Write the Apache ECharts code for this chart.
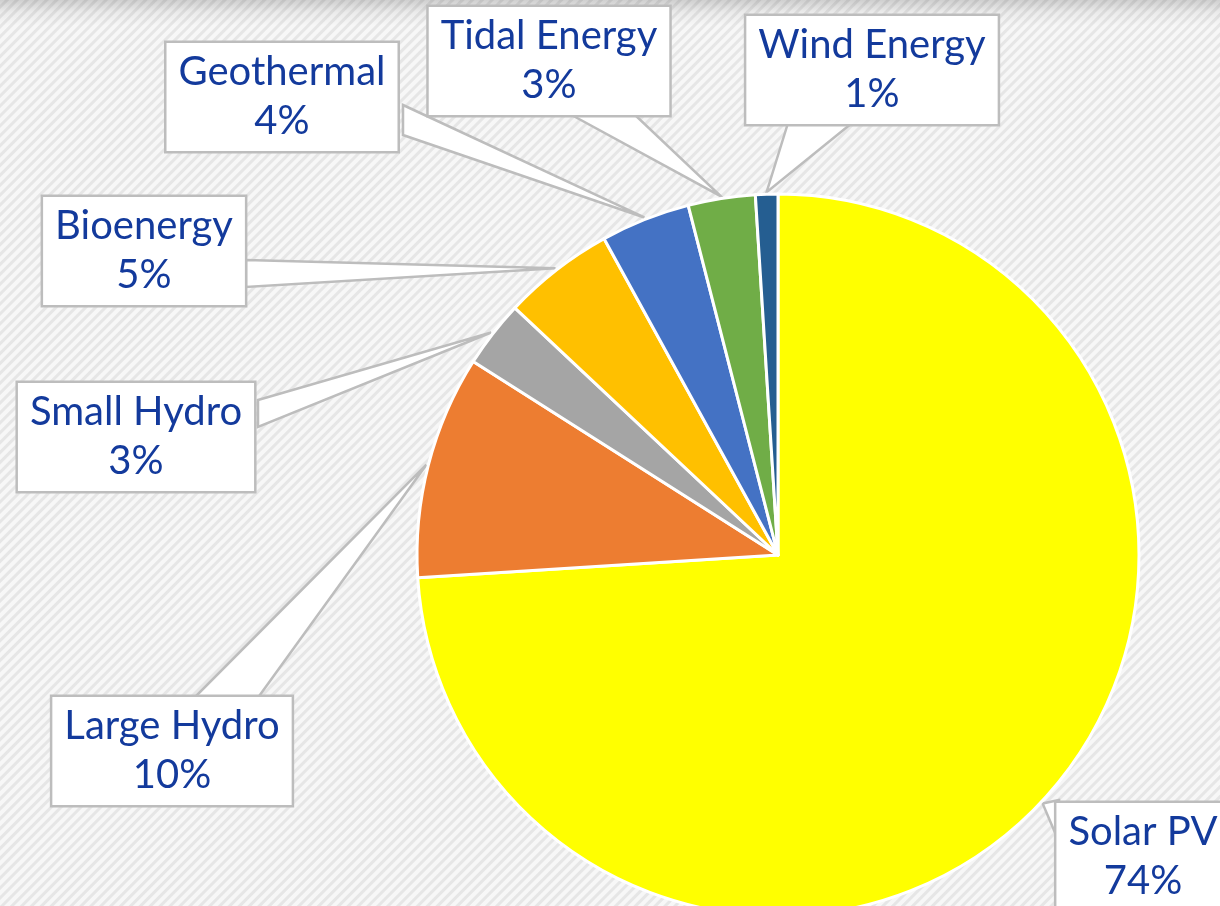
<!DOCTYPE html>
<html>
<head>
<meta charset="utf-8">
<script src="https://cdn.jsdelivr.net/npm/echarts@6/dist/echarts.min.js"></script>
<style>
  html, body { margin: 0; padding: 0; }
  body {
    width: 1220px; height: 906px; overflow: hidden;
    background:
      linear-gradient(to bottom, rgba(0,0,0,0.16) 0px, rgba(0,0,0,0.05) 12px, rgba(0,0,0,0) 26px),
      repeating-linear-gradient(135deg, #f7f7f7 0px, #f7f7f7 3px, #e6e6e6 4px, #e6e6e6 6px, #f7f7f7 7px);
  }
  #pieChart { width: 1220px; height: 906px; }
</style>
</head>
<body>
<div id="pieChart"></div>
<script>
var names = ['Solar PV', 'Large Hydro', 'Small Hydro', 'Bioenergy', 'Geothermal', 'Tidal Energy', 'Wind Energy'];
var shares = [74, 10, 3, 5, 4, 3, 1];
var colors = ['#FFFF00', '#ED7D31', '#A5A5A5', '#FFC000', '#4472C4', '#70AD47', '#255E91'];

// where each label box sits (centre) and where its callout leaves the box
var boxPos = [[1143, 857], [172, 751], [136, 437], [144, 251], [282, 97], [549, 61], [872, 70]];
var calloutBase = [
  [[1059, 800], [1059, 842]],
  [[193, 699], [257, 699]],
  [[258, 400], [258, 427]],
  [[246, 260], [246, 287]],
  [[403, 105], [403, 135]],
  [[568, 113], [633, 113]],
  [[788, 123], [852, 123]]
];

var chart = echarts.init(document.getElementById('pieChart'));

var pieData = names.map(function(n, i) {
  return { name: n, value: shares[i], itemStyle: { color: colors[i] } };
});

chart.setOption({
  animation: false,
  backgroundColor: 'transparent',
  series: [{
    type: 'pie',
    center: [778, 555],
    radius: 361,
    startAngle: 90,
    clockwise: true,
    data: pieData,
    itemStyle: { borderColor: '#ffffff', borderWidth: 3 },
    label: {
      show: true,
      position: 'inside',
      formatter: '{b}\n{c}%',
      color: '#133a9c',
      fontFamily: 'Lato',
      fontSize: 40,
      lineHeight: 49,
      align: 'center',
      overflow: 'none',
      textBorderWidth: 0,
      backgroundColor: '#ffffff',
      borderColor: '#bdbdbd',
      borderWidth: 2.5,
      padding: [5, 12]
    },
    labelLine: { show: false },
    labelLayout: function(p) {
      var b = boxPos[p.dataIndex];
      return { x: b[0], y: b[1], align: 'center', verticalAlign: 'middle' };
    },
    emphasis: { disabled: true }
  }]
});

// callout wedges: tip on the slice edge at its middle angle
var drawCallouts = function() {
  var data = chart.getModel().getSeriesByIndex(0).getData();
  var shapes = [];
  for (var i = 0; i < names.length; i++) {
    var lay = data.getItemLayout(i);
    var mid = (lay.startAngle + lay.endAngle) / 2;
    var tip = [lay.cx + (lay.r + 2) * Math.cos(mid), lay.cy + (lay.r + 2) * Math.sin(mid)];
    var base = calloutBase[i];
    shapes.push({
      type: 'polygon',
      z: 1,
      shape: { points: [base[0], tip, base[1]] },
      style: { fill: '#ffffff', stroke: '#bdbdbd', lineWidth: 2.5 }
    });
  }
  chart.setOption({ graphic: shapes });
};
drawCallouts();
</script>
</body>
</html>
